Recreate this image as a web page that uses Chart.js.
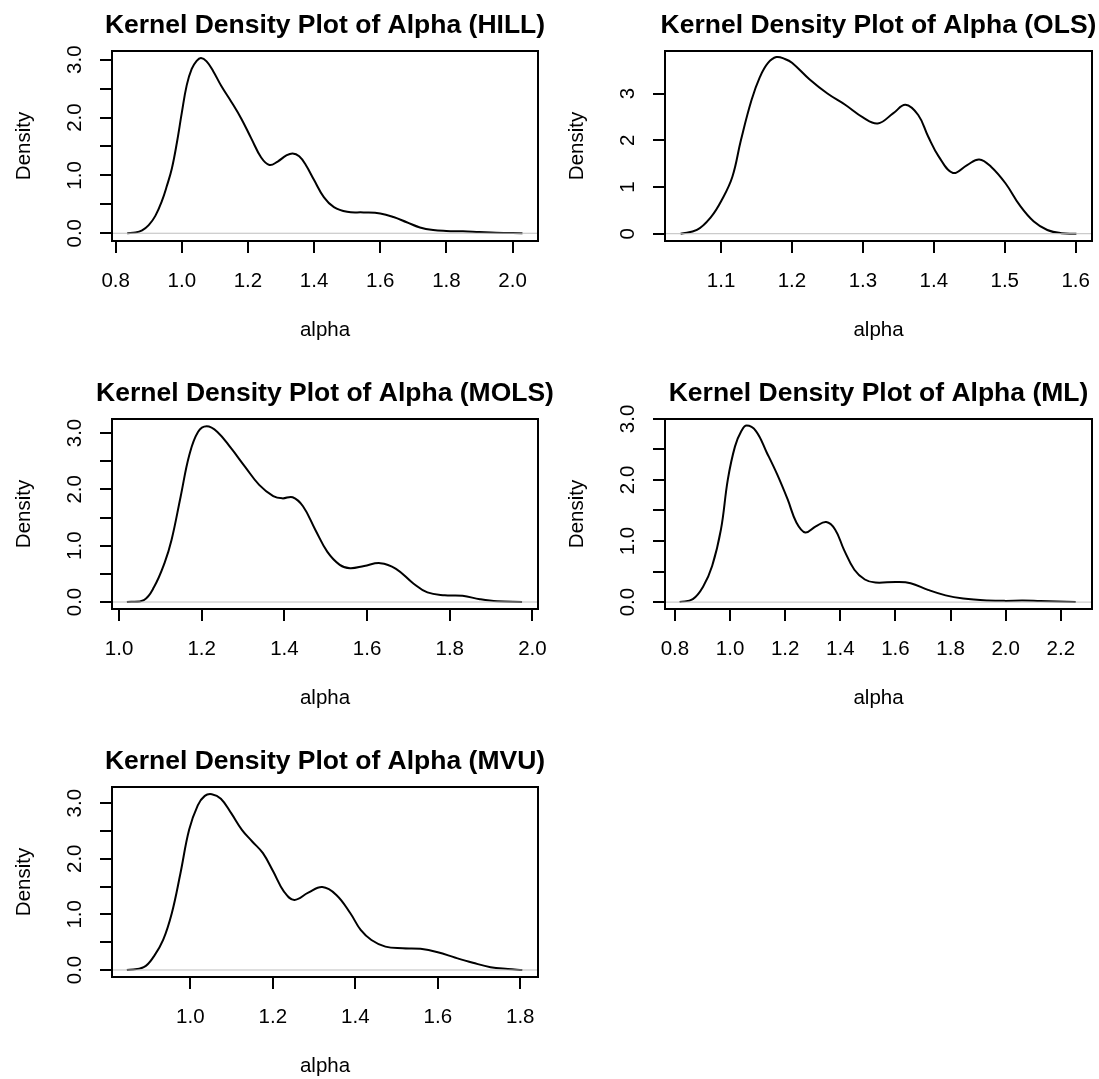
<!DOCTYPE html>
<html>
<head>
<meta charset="utf-8">
<title>Kernel Density Plots of Alpha</title>
<script src="https://cdn.jsdelivr.net/npm/chart.js@4.4.0/dist/chart.umd.min.js"></script>
<style>
html, body { margin: 0; padding: 0; background: #fff; overflow: hidden; }
#page { position: relative; width: 1099px; height: 1079px; overflow: hidden; background: #fff; }
canvas { position: absolute; }
</style>
</head>
<body>
<div id="page">
<canvas id="hill"></canvas>
<canvas id="ols"></canvas>
<canvas id="mols"></canvas>
<canvas id="ml"></canvas>
<canvas id="mvu"></canvas>
</div>
<script>
// density curves (alpha, density)
var hillAlpha = [0.835, 0.86, 0.88, 0.90, 0.92, 0.94, 0.955, 0.97, 0.985, 1.00, 1.015, 1.03, 1.045, 1.058, 1.075, 1.095, 1.12, 1.15, 1.18, 1.21, 1.24, 1.265, 1.29, 1.315, 1.335, 1.355, 1.375, 1.40, 1.43, 1.46, 1.50, 1.55, 1.60, 1.64, 1.68, 1.72, 1.76, 1.80, 1.85, 1.90, 1.95, 2.03];
var hillDensity = [0.0, 0.012, 0.05, 0.14, 0.30, 0.56, 0.82, 1.12, 1.56, 2.08, 2.56, 2.84, 2.98, 3.03, 2.97, 2.80, 2.54, 2.27, 1.98, 1.64, 1.31, 1.18, 1.24, 1.34, 1.38, 1.33, 1.18, 0.92, 0.62, 0.45, 0.37, 0.36, 0.34, 0.28, 0.19, 0.10, 0.055, 0.04, 0.033, 0.02, 0.008, 0.0];

var olsAlpha = [1.043, 1.066, 1.086, 1.101, 1.116, 1.128, 1.143, 1.155, 1.166, 1.178, 1.19, 1.20, 1.225, 1.25, 1.275, 1.30, 1.321, 1.343, 1.36, 1.378, 1.392, 1.407, 1.427, 1.447, 1.464, 1.481, 1.501, 1.521, 1.541, 1.56, 1.58, 1.601];
var olsDensity = [0.0, 0.08, 0.36, 0.72, 1.22, 2.0, 2.86, 3.36, 3.65, 3.78, 3.74, 3.66, 3.30, 3.0, 2.76, 2.49, 2.36, 2.58, 2.76, 2.54, 2.08, 1.65, 1.30, 1.47, 1.59, 1.43, 1.08, 0.61, 0.26, 0.08, 0.01, 0.0];

var molsAlpha = [1.019, 1.06, 1.085, 1.11, 1.127, 1.149, 1.17, 1.191, 1.212, 1.238, 1.271, 1.305, 1.339, 1.373, 1.395, 1.42, 1.445, 1.475, 1.504, 1.534, 1.559, 1.593, 1.632, 1.67, 1.712, 1.746, 1.788, 1.831, 1.873, 1.915, 1.975];
var molsDensity = [0.0, 0.035, 0.27, 0.69, 1.10, 1.87, 2.61, 3.02, 3.12, 3.02, 2.73, 2.40, 2.08, 1.88, 1.84, 1.86, 1.70, 1.28, 0.89, 0.66, 0.60, 0.64, 0.69, 0.59, 0.33, 0.17, 0.12, 0.11, 0.05, 0.012, 0.0];

var mlAlpha = [0.817, 0.865, 0.903, 0.935, 0.967, 0.992, 1.018, 1.041, 1.06, 1.094, 1.133, 1.171, 1.209, 1.241, 1.273, 1.311, 1.349, 1.381, 1.413, 1.451, 1.489, 1.527, 1.604, 1.655, 1.718, 1.782, 1.846, 1.935, 1.998, 2.062, 2.126, 2.254];
var mlDensity = [0.0, 0.05, 0.26, 0.59, 1.19, 2.01, 2.55, 2.80, 2.89, 2.80, 2.45, 2.09, 1.68, 1.30, 1.14, 1.24, 1.31, 1.19, 0.86, 0.53, 0.37, 0.32, 0.33, 0.31, 0.20, 0.11, 0.06, 0.027, 0.02, 0.025, 0.016, 0.0];

var mvuAlpha = [0.846, 0.887, 0.912, 0.934, 0.955, 0.976, 0.997, 1.018, 1.035, 1.052, 1.074, 1.099, 1.125, 1.15, 1.176, 1.201, 1.227, 1.252, 1.286, 1.32, 1.354, 1.388, 1.413, 1.439, 1.473, 1.515, 1.558, 1.60, 1.643, 1.685, 1.728, 1.77, 1.805];
var mvuDensity = [0.0, 0.05, 0.25, 0.54, 1.02, 1.74, 2.52, 2.96, 3.13, 3.16, 3.08, 2.82, 2.52, 2.31, 2.10, 1.77, 1.41, 1.26, 1.39, 1.49, 1.35, 1.02, 0.72, 0.54, 0.42, 0.39, 0.38, 0.32, 0.22, 0.13, 0.05, 0.018, 0.0];

// tick values
var hillXTicks = [0.8, 1.0, 1.2, 1.4, 1.6, 1.8, 2.0];
var olsXTicks = [1.1, 1.2, 1.3, 1.4, 1.5, 1.6];
var molsXTicks = [1.0, 1.2, 1.4, 1.6, 1.8, 2.0];
var mlXTicks = [0.8, 1.0, 1.2, 1.4, 1.6, 1.8, 2.0, 2.2];
var mvuXTicks = [1.0, 1.2, 1.4, 1.6, 1.8];
var halfYTicks = [0, 0.5, 1, 1.5, 2, 2.5, 3];
var wholeYTicks = [0, 1, 2, 3];

var FONT = "'Liberation Sans', Arial, Helvetica, sans-serif";
var AXIS_W = 112;   // room left of the box for ticks, labels and "Density"
var TOP_H = 51;     // room above the box for the title
var BOTTOM_H = 115; // room below the box for ticks, labels and "alpha"

var panels = [
    { id: 'hill', name: 'HILL', x: hillAlpha, y: hillDensity, xTicks: hillXTicks, yTicks: halfYTicks, digits: 1,
      xMin: 0.789, xMax: 2.077, yMin: -0.134, yMax: 3.15, left: 112, top: 51, w: 426, h: 190 },
    { id: 'ols', name: 'OLS', x: olsAlpha, y: olsDensity, xTicks: olsXTicks, yTicks: wholeYTicks, digits: 0,
      xMin: 1.021, xMax: 1.623, yMin: -0.156, yMax: 3.91, left: 665, top: 51, w: 427, h: 190 },
    { id: 'mols', name: 'MOLS', x: molsAlpha, y: molsDensity, xTicks: molsXTicks, yTicks: halfYTicks, digits: 1,
      xMin: 0.983, xMax: 2.0135, yMin: -0.124, yMax: 3.249, left: 112, top: 419, w: 426, h: 190 },
    { id: 'ml', name: 'ML', x: mlAlpha, y: mlDensity, xTicks: mlXTicks, yTicks: halfYTicks, digits: 1,
      xMin: 0.764, xMax: 2.313, yMin: -0.113, yMax: 2.998, left: 665, top: 419, w: 427, h: 190 },
    { id: 'mvu', name: 'MVU', x: mvuAlpha, y: mvuDensity, xTicks: mvuXTicks, yTicks: halfYTicks, digits: 1,
      xMin: 0.810, xMax: 1.843, yMin: -0.126, yMax: 3.29, left: 112, top: 787, w: 426, h: 190 }
];

// R style box round the plot region
var boxPlugin = {
    id: 'rBox',
    afterDatasetsDraw: function (chart) {
        var a = chart.chartArea;
        var ctx = chart.ctx;
        ctx.save();
        ctx.strokeStyle = '#000';
        ctx.lineWidth = 2;
        ctx.strokeRect(a.left, a.top, a.right - a.left, a.bottom - a.top);
        ctx.restore();
    }
};

var measure = document.createElement('canvas').getContext('2d');

function widestLabel(values, digits) {
    measure.font = '20.5px ' + FONT;
    var widest = 0;
    for (var i = 0; i < values.length; i++) {
        if (values[i] % 1 === 0) {
            widest = Math.max(widest, measure.measureText(values[i].toFixed(digits)).width);
        }
    }
    return widest;
}

function drawPanel(p) {
    var canvas = document.getElementById(p.id);
    var width = p.w + 2 * AXIS_W;
    var height = TOP_H + p.h + BOTTOM_H;
    canvas.width = width;
    canvas.height = height;
    canvas.style.left = (p.left - AXIS_W) + 'px';
    canvas.style.top = (p.top - TOP_H) + 'px';
    canvas.style.width = width + 'px';
    canvas.style.height = height + 'px';

    var points = [];
    for (var i = 0; i < p.x.length; i++) {
        points.push({ x: p.x[i], y: p.y[i] });
    }

    // labels centred ~37px left of the box
    var yPad = 24.7 - widestLabel(p.yTicks, p.digits) / 2;

    new Chart(canvas.getContext('2d'), {
        type: 'line',
        data: {
            datasets: [
                {
                    // zero line, as plot.density draws it
                    data: [{ x: p.xMin, y: 0 }, { x: p.xMax, y: 0 }],
                    borderColor: '#bebebe',
                    borderWidth: 1,
                    pointRadius: 0
                },
                {
                    data: points,
                    borderColor: '#000',
                    borderWidth: 2,
                    pointRadius: 0,
                    tension: 0.4,
                    borderJoinStyle: 'round'
                }
            ]
        },
        options: {
            responsive: false,
            animation: false,
            devicePixelRatio: 1,
            layout: { padding: 0 },
            plugins: {
                legend: { display: false },
                tooltip: { enabled: false },
                title: {
                    display: true,
                    text: 'Kernel Density Plot of Alpha (' + p.name + ')',
                    color: '#000',
                    font: { family: FONT, size: 26.5, weight: 'bold', lineHeight: 1 },
                    padding: { top: 12, bottom: 12.5 }
                }
            },
            scales: {
                x: {
                    type: 'linear',
                    position: 'bottom',
                    min: p.xMin,
                    max: p.xMax,
                    afterBuildTicks: function (scale) {
                        scale.ticks = p.xTicks.map(function (v) { return { value: v }; });
                    },
                    afterFit: function (scale) { scale.height = BOTTOM_H; },
                    grid: { drawOnChartArea: false, drawTicks: true, tickLength: 12, color: '#000', lineWidth: 2 },
                    border: { display: false },
                    ticks: {
                        autoSkip: false,
                        maxRotation: 0,
                        minRotation: 0,
                        padding: 15.7,
                        color: '#000',
                        font: { family: FONT, size: 20.5 },
                        callback: function (value) { return value.toFixed(1); }
                    },
                    title: {
                        display: true,
                        text: 'alpha',
                        color: '#000',
                        font: { family: FONT, size: 20.5 },
                        padding: { top: 0, bottom: 13.7 }
                    }
                },
                y: {
                    type: 'linear',
                    position: 'left',
                    min: p.yMin,
                    max: p.yMax,
                    afterBuildTicks: function (scale) {
                        scale.ticks = p.yTicks.map(function (v) { return { value: v }; });
                    },
                    afterFit: function (scale) { scale.width = AXIS_W; },
                    grid: { drawOnChartArea: false, drawTicks: true, tickLength: 12, color: '#000', lineWidth: 2 },
                    border: { display: false },
                    ticks: {
                        autoSkip: false,
                        minRotation: 90,
                        maxRotation: 90,
                        crossAlign: 'center',
                        padding: yPad,
                        color: '#000',
                        font: { family: FONT, size: 20.5 },
                        callback: function (value) {
                            return value % 1 === 0 ? value.toFixed(p.digits) : '';
                        }
                    },
                    title: {
                        display: true,
                        text: 'Density',
                        color: '#000',
                        font: { family: FONT, size: 20.5 },
                        padding: { top: 12.5, bottom: 0 }
                    }
                },
                // empty right side, so the title sits centred over the box
                pad: {
                    axis: 'y',
                    type: 'linear',
                    position: 'right',
                    grid: { display: false },
                    border: { display: false },
                    ticks: { display: false },
                    afterFit: function (scale) { scale.width = AXIS_W; }
                }
            }
        },
        plugins: [boxPlugin]
    });
}

for (var k = 0; k < panels.length; k++) {
    drawPanel(panels[k]);
}
</script>
</body>
</html>
